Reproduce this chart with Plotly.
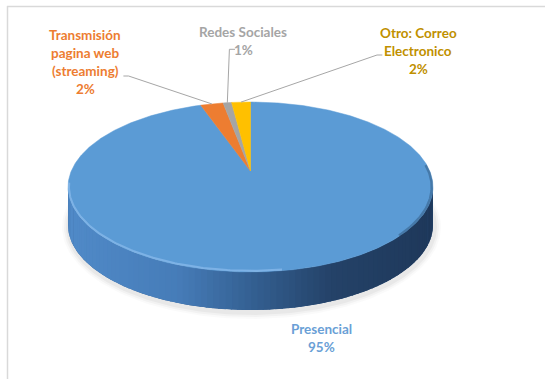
import numpy as np
import plotly.graph_objects as go

# ---------------- data ----------------
categories = ["Presencial", "Transmisión pagina web (streaming)", "Redes Sociales", "Otro: Correo Electronico"]
label_lines = [["Presencial"], ["Transmisión", "pagina web", "(streaming)"], ["Redes Sociales"], ["Otro: Correo", "Electronico"]]
values = [94.7, 2.4, 0.9, 2.0]

# ---------------- styles / layout ----------------
slice_colors = ["#5b9bd5", "#ed7d31", "#a5a5a5", "#ffc000"]
label_colors = ["#6a9fd6", "#ed7d31", "#a5a5a5", "#bf9000"]
FONT = "Lato"
FSIZE = 13.5
LINE_H = 18

W, H = 545, 379
CX, CY, A, B = 250.5, 187.0, 182.5, 85.0   # top-face ellipse (pixels)
APEX_Y = 171.0                              # projected centre of the pie
DEPTH = 38.0

# label anchor (centre x, first line y)
label_pos = [(321.5, 329.0), (85.0, 35.0), (243.0, 31.7), (418.0, 33.3)]
# leader line: (start, elbow) for each slice, None = no leader
leader_pts = [None, ((123.4, 76.0), (128.6, 76.0)), ((235.0, 49.3), (229.4, 49.3)),
              ((382.3, 55.0), (377.0, 55.0))]

# perspective mapping of the unit circle onto the top ellipse
t_up = APEX_Y - (CY - B)
t_dn = (CY + B) - APEX_Y
r = t_up / t_dn
K = (r - 1) / (r + 1)
BETA = t_up * (1 - K)
ALPHA = A * np.sqrt(1 - K * K)


def proj(theta_deg):
    th = np.radians(theta_deg)
    u = np.sin(th)
    v = -np.cos(th)
    w = 1 + K * v
    return CX + ALPHA * u / w, APEX_Y + BETA * v / w


STOPS = [(0.0, (80, 138, 200)), (0.3, (70, 124, 184)), (0.5, (52, 96, 146)),
         (0.72, (36, 66, 104)), (1.0, (30, 56, 90))]


def lerp_color(f):
    for (f0, c0), (f1, c1) in zip(STOPS[:-1], STOPS[1:]):
        if f <= f1:
            t = (f - f0) / (f1 - f0)
            return "rgb(%d,%d,%d)" % tuple(int(round(c0[i] + (c1[i] - c0[i]) * t)) for i in range(3))
    return "rgb(%d,%d,%d)" % STOPS[-1][1]


fig = go.Figure()

# soft shadow
for i, alpha in [(7, 0.02), (5, 0.03), (3, 0.04)]:
    ph = np.linspace(0, 2 * np.pi, 200)
    fig.add_trace(go.Scatter(x=CX + 1 + (A + i) * np.cos(ph), y=CY + DEPTH + 2 + (B + i) * np.sin(ph),
                             fill="toself", fillcolor="rgba(0,0,0,%g)" % alpha, line=dict(width=0),
                             mode="lines", hoverinfo="skip", showlegend=False))

# side of the pie: base polygon then gradient strips on top
ph = np.linspace(0, np.pi, 200)
xs = CX + A * np.cos(ph)
ys = CY + B * np.sin(ph)
fig.add_trace(go.Scatter(x=np.concatenate([xs, xs[::-1]]), y=np.concatenate([ys, ys[::-1] + DEPTH]),
                         fill="toself", fillcolor="rgb(48,88,135)", line=dict(width=0),
                         mode="lines", hoverinfo="skip", showlegend=False))
N = 90
phis = np.linspace(0, np.pi, N + 1)
for i in range(N):
    p0 = max(0.0, phis[i] - 0.004)
    p1 = min(np.pi, phis[i + 1] + 0.004)
    ph = np.linspace(p0, p1, 4)
    xs = CX + A * np.cos(ph)
    ys = CY + B * np.sin(ph)
    px = np.concatenate([xs, xs[::-1]])
    py = np.concatenate([ys, ys[::-1] + DEPTH])
    f = (xs.mean() - (CX - A)) / (2 * A)
    col = lerp_color(f)
    fig.add_trace(go.Scatter(x=px, y=py, fill="toself", fillcolor=col, line=dict(width=0),
                             mode="lines", hoverinfo="skip", showlegend=False))

# top face slices (clockwise from 12 o'clock)
total = sum(values)
cum = 0.0
mids = []
for i, v in enumerate(values):
    a0 = cum / total * 360.0
    a1 = (cum + v) / total * 360.0
    cum += v
    mids.append((a0 + a1) / 2)
    th = np.linspace(a0, a1, max(3, int((a1 - a0) / 0.5)))
    xs, ys = proj(th)
    px = np.concatenate([[CX], xs, [CX]])
    py = np.concatenate([[APEX_Y], ys, [APEX_Y]])
    fig.add_trace(go.Scatter(x=px, y=py, fill="toself", fillcolor=slice_colors[i],
                             line=dict(width=0.5, color=slice_colors[i]), mode="lines",
                             name=categories[i], hoverinfo="name", showlegend=False))

# rim highlight (front-left) and darkening (right)
ph = np.radians(np.linspace(80, 183, 120))
fig.add_trace(go.Scatter(x=CX + (A - 1) * np.cos(ph), y=CY + (B - 1.2) * np.sin(ph), mode="lines",
                         line=dict(color="rgba(140,188,236,0.7)", width=2), hoverinfo="skip", showlegend=False))
ph = np.radians(np.linspace(-15, 35, 60))
fig.add_trace(go.Scatter(x=CX + (A - 1.2) * np.cos(ph), y=CY + (B - 0.6) * np.sin(ph), mode="lines",
                         line=dict(color="rgba(30,56,90,0.35)", width=2.5), hoverinfo="skip", showlegend=False))

# leader lines
for i, lp in enumerate(leader_pts):
    if lp is None:
        continue
    ex, ey = proj(mids[i])
    fig.add_trace(go.Scatter(x=[lp[0][0], lp[1][0], ex], y=[lp[0][1], lp[1][1], ey], mode="lines",
                             line=dict(color="#a6a6a6", width=1), hoverinfo="skip", showlegend=False))

# labels
annotations = []
for i, lines in enumerate(label_lines):
    pct = "%d%%" % round(values[i] / total * 100)
    x0, y0 = label_pos[i]
    for j, txt in enumerate(lines + [pct]):
        annotations.append(dict(x=x0, y=y0 + j * LINE_H, xref="x", yref="y", text="<b>%s</b>" % txt,
                                showarrow=False, xanchor="center", yanchor="middle",
                                font=dict(family=FONT, size=FSIZE, color=label_colors[i])))

fig.update_layout(
    width=W, height=H, margin=dict(l=0, r=0, t=0, b=0),
    paper_bgcolor="white", plot_bgcolor="white",
    xaxis=dict(range=[0, W], visible=False, fixedrange=True),
    yaxis=dict(range=[H, 0], visible=False, fixedrange=True),
    annotations=annotations,
    shapes=[
        dict(type="line", xref="x", yref="y", x0=7, y0=6.5, x1=W, y1=6.5, line=dict(color="#d9d9d9", width=1.5)),
        dict(type="line", xref="x", yref="y", x0=7.5, y0=6, x1=7.5, y1=H, line=dict(color="#d9d9d9", width=1.5)),
    ],
    showlegend=False,
)

fig.write_html("out.html")
